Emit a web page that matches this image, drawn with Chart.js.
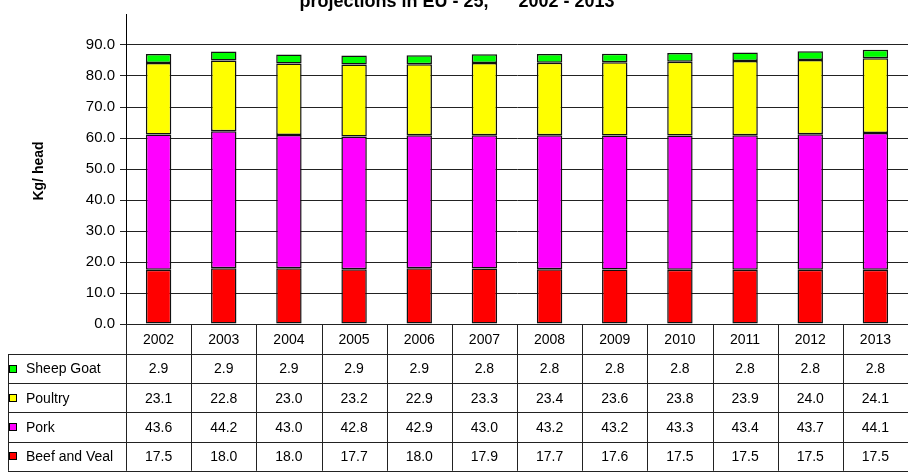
<!DOCTYPE html>
<html>
<head>
<meta charset="utf-8">
<script src="https://cdn.jsdelivr.net/npm/chart.js@4/dist/chart.umd.min.js"></script>
<style>
  html, body { margin: 0; padding: 0; background: #fff; }
  #wrap { width: 908px; height: 472px; position: relative; overflow: hidden; }
</style>
</head>
<body>
<div id="wrap"><canvas id="meatChart" width="908" height="472"></canvas></div>
<script>
// data
const years = ['2002', '2003', '2004', '2005', '2006', '2007', '2008', '2009', '2010', '2011', '2012', '2013'];
const beefVeal = [17.5, 18.0, 18.0, 17.7, 18.0, 17.9, 17.7, 17.6, 17.5, 17.5, 17.5, 17.5];
const pork = [43.6, 44.2, 43.0, 42.8, 42.9, 43.0, 43.2, 43.2, 43.3, 43.4, 43.7, 44.1];
const poultry = [23.1, 22.8, 23.0, 23.2, 22.9, 23.3, 23.4, 23.6, 23.8, 23.9, 24.0, 24.1];
const sheepGoat = [2.9, 2.9, 2.9, 2.9, 2.9, 2.8, 2.8, 2.8, 2.8, 2.8, 2.8, 2.8];
const yTicks = [0, 10, 20, 30, 40, 50, 60, 70, 80, 90];

const titleText = 'projections in EU - 25,      2002 - 2013';
const yTitle = 'Kg/ head';
const FONT = '"Liberation Sans", Arial, sans-serif';
const LINE = '#222';

// draws the title, the rotated axis title and the data table under the bars
const tablePlugin = {
  id: 'dataTable',
  afterDraw(chart) {
    const ctx = chart.ctx;
    const area = chart.chartArea;
    const x = chart.scales.x;
    const colW = area.width / years.length;
    const rowTop = area.bottom;
    const headH = 30;
    const rowH = 29.2;
    const tableLeft = 8;
    const rows = chart.data.datasets.slice().reverse();
    const bottom = rowTop + headH + rowH * rows.length;

    ctx.save();
    // title (cut at the top, as in the reference)
    ctx.fillStyle = '#000';
    ctx.font = 'bold 18px ' + FONT;
    ctx.textAlign = 'center';
    ctx.textBaseline = 'alphabetic';
    ctx.fillText(titleText, 457, 7);

    // y axis title
    ctx.save();
    ctx.translate(43, (area.top + area.bottom) / 2 + 2);
    ctx.rotate(-Math.PI / 2);
    ctx.font = 'bold 14px ' + FONT;
    ctx.textBaseline = 'alphabetic';
    ctx.fillText(yTitle, 0, 0);
    ctx.restore();

    // grid of the table
    ctx.strokeStyle = LINE;
    ctx.lineWidth = 1;
    ctx.beginPath();
    for (let k = 0; k <= years.length; k++) {
      const px = Math.round(area.left + k * colW) + 0.5;
      ctx.moveTo(px, rowTop);
      ctx.lineTo(px, bottom);
    }
    ctx.moveTo(tableLeft + 0.5, rowTop + headH);
    ctx.lineTo(tableLeft + 0.5, bottom);
    for (let r = 0; r <= rows.length; r++) {
      const py = Math.round(rowTop + headH + r * rowH) + 0.5;
      ctx.moveTo(tableLeft, py);
      ctx.lineTo(area.right, py);
    }
    ctx.stroke();

    // header years
    ctx.font = '14px ' + FONT;
    ctx.textAlign = 'center';
    ctx.textBaseline = 'middle';
    years.forEach((yr, i) => {
      ctx.fillText(yr, x.getPixelForValue(i), rowTop + headH / 2 + 1);
    });

    // rows: legend key + values
    rows.forEach((ds, r) => {
      const cy = rowTop + headH + r * rowH + rowH / 2 + 1;
      ctx.fillStyle = ds.backgroundColor;
      ctx.fillRect(9, Math.round(cy - 5), 8, 8);
      ctx.strokeStyle = '#000';
      ctx.strokeRect(9.5, Math.round(cy - 5) + 0.5, 7, 7);
      ctx.fillStyle = '#000';
      ctx.textAlign = 'left';
      ctx.fillText(ds.label, 26, cy);
      ctx.textAlign = 'center';
      ds.data.forEach((v, i) => {
        ctx.fillText(v.toFixed(1), x.getPixelForValue(i), cy);
      });
    });
    ctx.restore();
  }
};

const bar = (label, data, color) => ({
  label: label,
  data: data,
  backgroundColor: color,
  borderColor: '#111',
  borderWidth: 1.5,
  borderSkipped: false,
  categoryPercentage: 1,
  barPercentage: 0.39
});

new Chart(document.getElementById('meatChart'), {
  type: 'bar',
  data: {
    labels: years,
    datasets: [
      bar('Beef and Veal', beefVeal, '#ff0000'),
      bar('Pork', pork, '#ff00ff'),
      bar('Poultry', poultry, '#ffff00'),
      bar('Sheep Goat', sheepGoat, '#00ff00')
    ]
  },
  options: {
    responsive: false,
    animation: false,
    devicePixelRatio: 1,
    layout: { padding: { top: 2, bottom: 148, left: 0, right: 0 } },
    plugins: {
      legend: { display: false },
      title: { display: false },
      tooltip: { enabled: false }
    },
    scales: {
      x: {
        stacked: true,
        display: false
      },
      y: {
        stacked: true,
        min: 0,
        max: 100,
        afterFit(scale) { scale.width = 126; },
        afterBuildTicks(scale) {
          scale.ticks = yTicks.concat([100]).map(v => ({ value: v }));
        },
        border: { color: '#000', width: 1 },
        grid: {
          color: c => (c.tick && c.tick.value === 100 ? 'rgba(0,0,0,0)' : LINE),
          tickColor: c => (c.tick && c.tick.value === 100 ? 'rgba(0,0,0,0)' : LINE),
          tickLength: 6,
          drawTicks: true
        },
        ticks: {
          padding: 5,
          color: '#000',
          font: { family: FONT, size: 15 },
          callback: v => (yTicks.includes(v) ? v.toFixed(1) : '')
        }
      }
    }
  },
  plugins: [tablePlugin]
});
</script>
</body>
</html>
